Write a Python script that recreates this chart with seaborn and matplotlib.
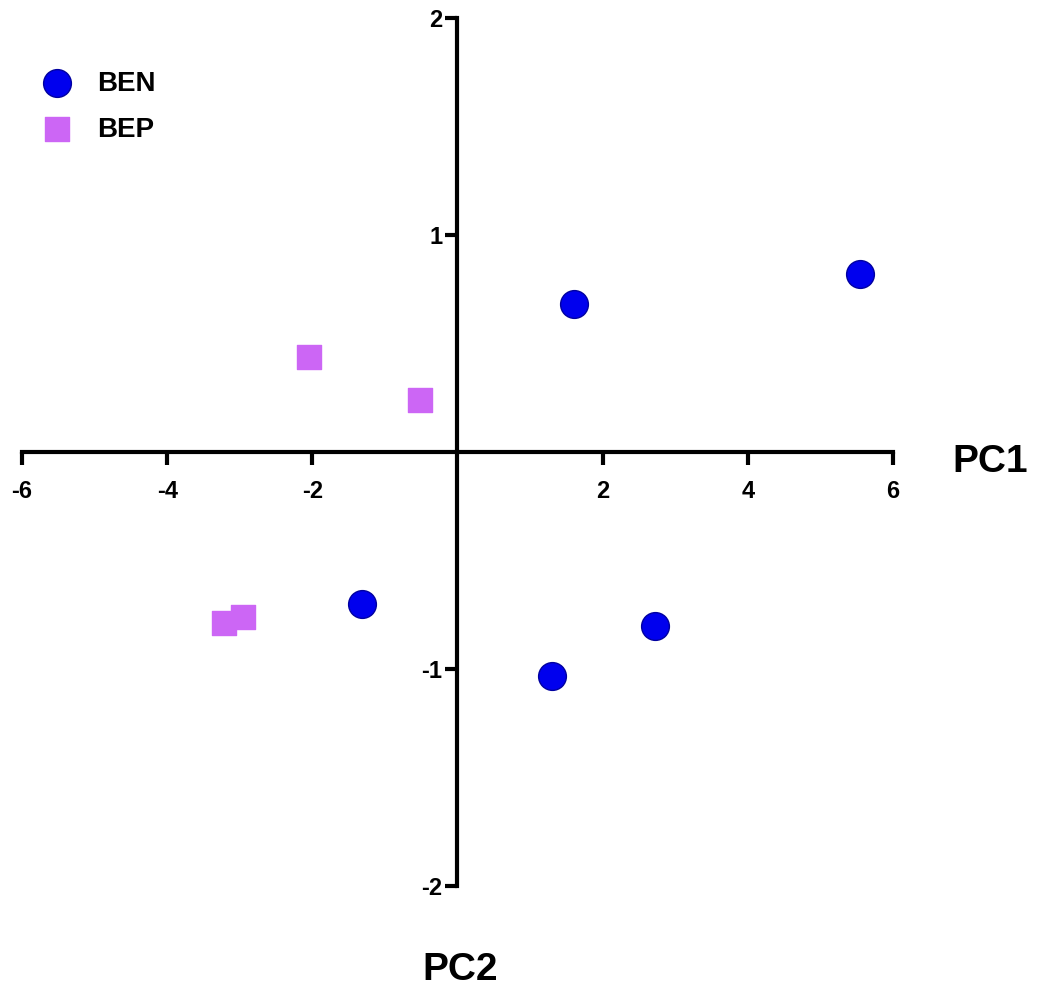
import matplotlib
matplotlib.use("Agg")
import matplotlib.pyplot as plt
import pandas as pd
import seaborn as sns

# PCA scores
groups = ["BEN"] * 5 + ["BEP"] * 4
pc1 = [1.60, 5.54, -1.31, 1.30, 2.72, -2.04, -0.52, -3.22, -2.95]
pc2 = [0.68, 0.82, -0.70, -1.03, -0.80, 0.44, 0.24, -0.79, -0.76]

xticks = [-6, -4, -2, 2, 4, 6]
yticks = [-2, -1, 1, 2]

df = pd.DataFrame({"PC1": pc1, "PC2": pc2, "group": groups})

sns.set_style("white")
plt.rcParams["font.family"] = ["Liberation Sans", "DejaVu Sans"]
plt.rcParams["font.weight"] = "bold"
plt.rcParams["text.color"] = "black"

fig = plt.figure(figsize=(10.41, 9.9), dpi=100)
ax = fig.add_axes([22 / 1041, 104 / 990, 871 / 1041, 868 / 990])

palette = {"BEN": "#0000ee", "BEP": "#cc66f5"}
markers = {"BEN": "o", "BEP": "s"}
edges = {"BEN": "#0000a0", "BEP": "#cc66f5"}

for g in ["BEN", "BEP"]:
    sub = df[df["group"] == g]
    sns.scatterplot(data=sub, x="PC1", y="PC2", ax=ax, color=palette[g],
                    marker=markers[g], s=400 if g == "BEN" else 300,
                    edgecolor=edges[g], linewidth=1, label=g, clip_on=False,
                    zorder=3)

ax.set_xlim(-6, 6)
ax.set_ylim(-2, 2)
ax.set_xticks(xticks)
ax.set_yticks(yticks)
ax.set_xticklabels([str(t) for t in xticks])
ax.set_yticklabels([str(t) for t in yticks])
ax.set_xlabel("")
ax.set_ylabel("")

for side in ["top", "right"]:
    ax.spines[side].set_visible(False)
for side in ["left", "bottom"]:
    ax.spines[side].set_position(("data", 0))
    ax.spines[side].set_linewidth(3)
    ax.spines[side].set_color("black")
    ax.spines[side].set_capstyle("projecting")

ax.tick_params(axis="both", direction="out", length=9, width=3,
               labelsize=17, colors="black", bottom=True, left=True)
ax.tick_params(axis="x", pad=11)
ax.tick_params(axis="y", pad=2)
for lab in ax.get_xticklabels() + ax.get_yticklabels():
    lab.set_fontweight("bold")

leg = ax.legend(loc="upper left", bbox_to_anchor=(0.017, 0.94),
                bbox_transform=fig.transFigure, frameon=False,
                prop={"size": 20, "weight": "bold"}, handletextpad=0.45,
                labelspacing=0.72, borderaxespad=0)
for t in leg.get_texts():
    t.set_color("black")

fig.text(990 / 1041, 1 - 462 / 990, "PC1", fontsize=28, fontweight="bold",
         ha="center", va="center", color="black")
fig.text(460 / 1041, 1 - 970 / 990, "PC2", fontsize=28, fontweight="bold",
         ha="center", va="center", color="black")

fig.savefig("out.png", dpi=100)
